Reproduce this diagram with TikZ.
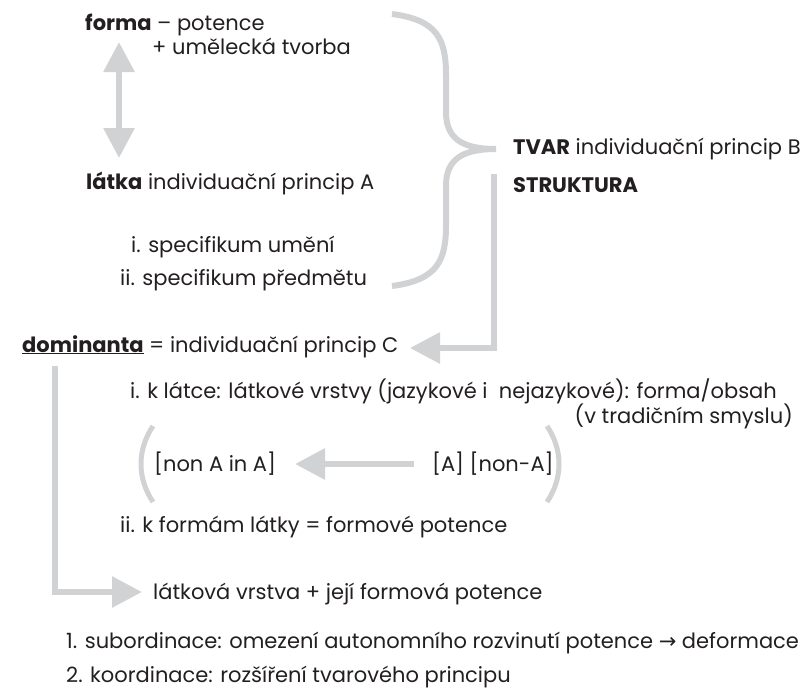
\documentclass[tikz,border=0pt]{standalone}
\usepackage{fontspec}
\setmainfont{Poppins}
\newfontfamily\arrowfont{DejaVu Sans}
\usetikzlibrary{arrows.meta}

\definecolor{linegray}{RGB}{209,210,212}
\definecolor{textblack}{RGB}{35,31,32}
\newcommand{\grayline}{6pt}
\newcommand{\headsize}{30pt}

\tikzset{
  txt/.style={anchor=base west, inner sep=0pt, text=textblack,
    font=\fontsize{21}{25}\selectfont},
  grayarrow/.style={draw=linegray, line width=\grayline,
    -{Triangle[length=\headsize,width=\headsize]}},
  graycurve/.style={draw=linegray, line width=\grayline},
}

\begin{document}
\begin{tikzpicture}[x=1pt,y=-1pt]
\useasboundingbox (0,0) rectangle (808,689);

% upper block
\node [txt] (forma) at (85,30) {\textbf{forma} – potence};
\node [txt] (tvorba) at (152,54) {+ umělecká tvorba};
\node [txt] (latka) at (86,189) {\textbf{látka} individuační princip A};
\node [txt] (umeni) at (131,252) {i. specifikum umění};
\node [txt] (predmet) at (120,285) {ii. specifikum předmětu};
\node [txt] (tvar) at (513,154) {\textbf{TVAR} individuační princip B};
\node [txt] (struktura) at (513,192) {\textbf{STRUKTURA}};

% dominanta block
\node [txt] (dominanta) at (22,352) {\underline{\textbf{dominanta}} = individuační princip C};
\node [txt] (latce) at (130,398) {i. k látce: látkové vrstvy (jazykové i\ \ nejazykové): forma/obsah};
\node [txt,anchor=base east] (smysl) at (793,423) {(v tradičním smyslu)};
\node [txt] (nonA) at (154,471) {[non A in A]};
\node [txt] (A) at (432,471) {[A] [non-A]};
\node [txt] (formam) at (120,532) {ii. k formám látky = formové potence};
\node [txt] (vrstva) at (153,599) {látková vrstva + její formová potence};

% numbered lines
\node [txt] (subord) at (66,648) {1. subordinace: omezení autonomního rozvinutí potence {\arrowfont →} deformace};
\node [txt] (koord) at (66,682) {2. koordinace: rozšíření tvarového principu};

% arrow coordinates
\coordinate (fup) at (119,42);
\coordinate (fdown) at (119,158);
\coordinate (tip) at (496,149);
\coordinate (sdown) at (494,174);
\coordinate (scorner) at (494,348);
\coordinate (send) at (410,348);
\coordinate (pstart) at (414,464);
\coordinate (pend) at (295,464);
\coordinate (dtop) at (55,366);
\coordinate (dcorner) at (55,592);
\coordinate (dend) at (142,592);

% forma <-> latka
\draw [grayarrow,{Triangle[length=\headsize,width=\headsize]}-{Triangle[length=\headsize,width=\headsize]}] (fup) -- (fdown);

% brace
\draw [graycurve] (392,14) .. controls (438,20) and (446,40) .. (446,75)
  -- (446,112) .. controls (446,137) and (460,149) .. (tip)
  .. controls (460,149) and (446,161) .. (446,186)
  -- (446,225) .. controls (446,260) and (438,280) .. (392,286);

% struktura to dominanta
\draw [grayarrow] (sdown) -- (scorner) -- (send);

% parentheses
\draw [graycurve,line width=5pt] (153,426) .. controls (137,450) and (137,478) .. (153,502);
\draw [graycurve,line width=5pt] (547,426) .. controls (563,450) and (563,478) .. (547,502);
\draw [grayarrow] (pstart) -- (pend);

% dominanta to vrstva
\draw [grayarrow] (dtop) -- (dcorner) -- (dend);

\end{tikzpicture}
\end{document}
